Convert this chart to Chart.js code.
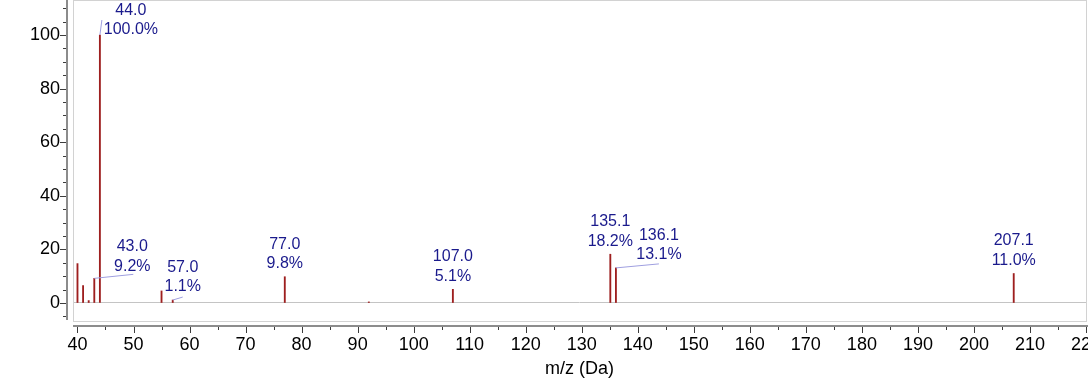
<!DOCTYPE html>
<html>
<head>
<meta charset="utf-8">
<script src="https://cdn.jsdelivr.net/npm/chart.js@4"></script>
<style>
    html, body { margin: 0; padding: 0; background: #fff; overflow: hidden; }
    #caixa { width: 1088px; height: 378px; position: relative; }
</style>
</head>
<body>
<div id="caixa"><canvas id="chartEspectro"></canvas></div>
<script>
// picos do espectro (m/z em Da, intensidade relativa em %)
const massas = [40.0, 41.0, 42.0, 43.0, 44.0, 55.0, 57.0, 77.0, 92.0, 107.0, 135.1, 136.1, 207.1];
const intensidades = [14.7, 6.5, 0.9, 9.2, 100.0, 4.5, 1.1, 9.8, 0.4, 5.1, 18.2, 13.1, 11.0];
const picosRotulados = [43.0, 44.0, 57.0, 77.0, 107.0, 135.1, 136.1, 207.1];
const ticksY = [0, 20, 40, 60, 80, 100];
const ticksX = [40, 50, 60, 70, 80, 90, 100, 110, 120, 130, 140, 150, 160, 170, 180, 190, 200, 210, 220];

// deslocamento dos rotulos que nao ficam em cima da barra (px)
const ajustesRotulos = {
    '44.0': { dx: 31, dy: 8, linha: [2, -15] },
    '43.0': { dx: 38, dy: 1, linha: [39, -4] },
    '57.0': { dx: 10, dy: 0, linha: [10, -3] },
    '136.1': { dx: 43, dy: 0, linha: [43, -4] }
};

const fonte = '"Liberation Sans", Arial, sans-serif';
const corBarra = '#9e1f1f';
const corRotulo = '#1a1a8c';
const corLinhaRotulo = '#9f9fe0';

const molduraEixos = {
    id: 'molduraEixos',
    beforeDatasetsDraw(chart) {
        const ctx = chart.ctx;
        const area = chart.chartArea;
        const x = chart.scales.x;
        const y = chart.scales.y;

        ctx.save();
        // moldura clara da area do grafico
        ctx.strokeStyle = '#d2d2d2';
        ctx.lineWidth = 1;
        ctx.strokeRect(area.left + 0.5, area.top - 0.5, area.right - area.left, area.bottom - area.top);

        // linhas dos eixos
        ctx.fillStyle = '#8c8c8c';
        ctx.fillRect(area.left - 7, 0, 2, area.bottom - 2);
        ctx.fillRect(area.left, area.bottom + 3, chart.width - area.left, 2);

        // marcas dos eixos
        ctx.strokeStyle = '#3c3c3c';
        ctx.beginPath();
        for (let v = -5; v <= 110; v += 5) {
            const py = Math.round(y.getPixelForValue(v)) + 0.5;
            const tam = v % 20 == 0 ? 6 : 3;
            ctx.moveTo(area.left - 7 - tam, py);
            ctx.lineTo(area.left - 7, py);
        }
        for (let v = 40; v <= 220; v += 5) {
            const px = Math.round(x.getPixelForValue(v)) + 0.5;
            const tam = v % 10 == 0 ? 6 : 3;
            ctx.moveTo(px, area.bottom + 5);
            ctx.lineTo(px, area.bottom + 5 + tam);
        }
        ctx.stroke();
        ctx.restore();
    }
};

const rotulosPicos = {
    id: 'rotulosPicos',
    afterDatasetsDraw(chart) {
        const ctx = chart.ctx;
        const meta = chart.getDatasetMeta(0);
        const maximo = Math.max(...intensidades);

        ctx.save();
        ctx.font = '16px ' + fonte;
        ctx.textAlign = 'center';
        ctx.textBaseline = 'middle';

        picosRotulados.forEach((mz) => {
            const i = massas.indexOf(mz);
            const barra = meta.data[i];
            const ajuste = ajustesRotulos[mz.toFixed(1)] || { dx: 0, dy: 0 };
            const tx = barra.x + ajuste.dx;
            const ty = barra.y - 13 + ajuste.dy;

            if (ajuste.linha) {
                ctx.strokeStyle = corLinhaRotulo;
                ctx.lineWidth = 1;
                ctx.beginPath();
                ctx.moveTo(barra.x, barra.y);
                ctx.lineTo(barra.x + ajuste.linha[0], barra.y + ajuste.linha[1]);
                ctx.stroke();
            }

            ctx.fillStyle = corRotulo;
            ctx.fillText(mz.toFixed(1), tx, ty - 19.5);
            ctx.fillText((intensidades[i] / maximo * 100).toFixed(1) + '%', tx, ty);
        });
        ctx.restore();
    }
};

function carregarEspectro() {
    const canvas = document.getElementById('chartEspectro');

    new Chart(canvas, {
        type: 'bar',
        data: {
            datasets: [
                {
                    label: 'Intensidade',
                    data: massas.map((mz, i) => ({ x: mz, y: intensidades[i] })),
                    backgroundColor: corBarra,
                    borderWidth: 0,
                    barThickness: 1.2
                }
            ]
        },
        options: {
            responsive: true,
            maintainAspectRatio: false,
            animation: false,
            devicePixelRatio: 1,
            layout: {
                padding: { left: 0, right: 2, top: 1, bottom: 0 }
            },
            plugins: {
                legend: { display: false },
                tooltip: { enabled: false }
            },
            scales: {
                x: {
                    type: 'linear',
                    min: 39.2,
                    max: 220,
                    offset: false,
                    border: { display: false },
                    grid: {
                        offset: false,
                        drawOnChartArea: false,
                        drawTicks: true,
                        tickLength: 8,
                        tickColor: 'rgba(0,0,0,0)'
                    },
                    ticks: {
                        autoSkip: false,
                        maxRotation: 0,
                        padding: 4,
                        color: '#000',
                        font: { family: fonte, size: 18 },
                        callback: (v) => String(v)
                    },
                    title: {
                        display: true,
                        text: 'm/z (Da)',
                        color: '#000',
                        padding: { top: 0, bottom: 0 },
                        font: { family: fonte, size: 18, lineHeight: 1 }
                    },
                    afterBuildTicks(scale) {
                        scale.ticks = ticksX.map((v) => ({ value: v }));
                    },
                    afterFit(scale) {
                        scale.height = 56;
                        scale.paddingLeft = 0;
                        scale.paddingRight = 0;
                    }
                },
                y: {
                    min: -7.09,
                    max: 112.69,
                    border: { display: false },
                    grid: {
                        drawOnChartArea: true,
                        drawTicks: true,
                        tickLength: 8,
                        tickColor: 'rgba(0,0,0,0)',
                        color: (c) => c.tick && c.tick.value === 0 ? '#c4c4c4' : 'rgba(0,0,0,0)',
                        lineWidth: 1
                    },
                    ticks: {
                        padding: 5,
                        color: '#000',
                        font: { family: fonte, size: 18 },
                        callback: (v) => String(v)
                    },
                    afterBuildTicks(scale) {
                        scale.ticks = ticksY.map((v) => ({ value: v }));
                    },
                    afterFit(scale) {
                        scale.width = 73;
                        scale.paddingTop = 0;
                        scale.paddingBottom = 0;
                    }
                }
            }
        },
        plugins: [molduraEixos, rotulosPicos]
    });
}

carregarEspectro();
</script>
</body>
</html>
